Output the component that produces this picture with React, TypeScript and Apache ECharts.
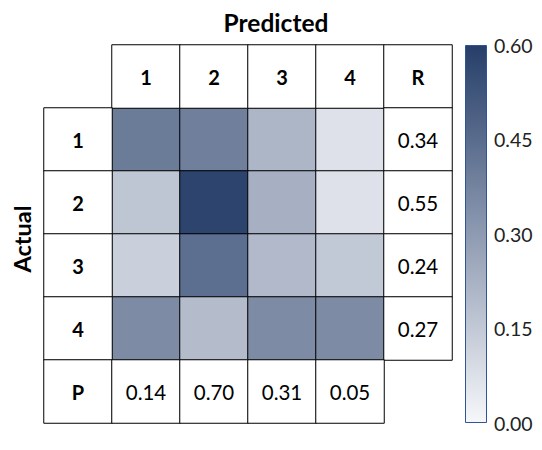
import React, { useEffect, useRef } from "react";
import * as echarts from "echarts";

const xCategories = ["", "1", "2", "3", "4", "R"];
const yCategories = ["", "1", "2", "3", "4", "P"];
const predictedLabels = ["1", "2", "3", "4"];
const actualLabels = ["1", "2", "3", "4"];
const matrix = [
  [0.40, 0.39, 0.21, 0.07],
  [0.16, 0.58, 0.23, 0.07],
  [0.13, 0.44, 0.20, 0.15],
  [0.35, 0.19, 0.35, 0.35],
];
const recall = ["0.34", "0.55", "0.24", "0.27"];
const precision = ["0.14", "0.70", "0.31", "0.05"];
const scaleMin = 0;
const scaleMax = 0.6;
const scaleInterval = 0.15;

const LOW = "#f6f7fa";
const HIGH = "#263e69";
const FONT = "Lato";

export default function App() {
  const ref = useRef<HTMLDivElement>(null);
  useEffect(() => {
    document.body.style.margin = "0";
    if (!ref.current) return;
    const chart = echarts.init(ref.current, undefined, { renderer: "svg" });

    const heat: any[] = [];
    matrix.forEach((row, i) =>
      row.forEach((v, j) => heat.push([j + 1, i + 1, v]))
    );

    const labelCells: any[] = [];
    const boldLabel = { show: true, fontFamily: FONT, fontWeight: "bold", fontSize: 20, color: "#000" };
    const plainLabel = { show: true, fontFamily: FONT, fontWeight: "normal", fontSize: 20.5, color: "#000" };
    predictedLabels.forEach((t, j) =>
      labelCells.push({ value: [j + 1, 0, 0], label: { ...boldLabel, formatter: t } })
    );
    labelCells.push({ value: [5, 0, 0], label: { ...boldLabel, formatter: "R" } });
    actualLabels.forEach((t, i) =>
      labelCells.push({ value: [0, i + 1, 0], label: { ...boldLabel, formatter: t } })
    );
    labelCells.push({ value: [0, 5, 0], label: { ...boldLabel, formatter: "P" } });
    recall.forEach((t, i) =>
      labelCells.push({ value: [5, i + 1, 0], label: { ...plainLabel, formatter: t } })
    );
    precision.forEach((t, j) =>
      labelCells.push({ value: [j + 1, 5, 0], label: { ...plainLabel, formatter: t } })
    );

    chart.setOption({
      animation: false,
      textStyle: { fontFamily: FONT },
      grid: [
        { left: 44, top: 45, width: 408, height: 378 },
        { left: 465, top: 45, width: 22, height: 378 },
      ],
      xAxis: [
        { type: "category", data: xCategories, gridIndex: 0, show: false },
        { type: "category", data: [""], gridIndex: 1, show: false },
      ],
      yAxis: [
        { type: "category", data: yCategories, gridIndex: 0, show: false, inverse: true },
        {
          type: "value",
          gridIndex: 1,
          min: scaleMin,
          max: scaleMax,
          interval: scaleInterval,
          position: "right",
          axisLine: { show: false },
          axisTick: { show: false },
          splitLine: { show: false },
          axisLabel: {
            fontFamily: FONT,
            fontSize: 19.5,
            color: "#222",
            margin: 7,
            formatter: (v: number) => v.toFixed(2),
          },
        },
      ],
      visualMap: [
        {
          type: "continuous",
          show: false,
          min: scaleMin,
          max: scaleMax,
          seriesIndex: 0,
          inRange: { color: [LOW, HIGH] },
        },
        {
          type: "continuous",
          show: false,
          min: 0,
          max: 1,
          seriesIndex: 1,
          inRange: { color: ["#ffffff", "#ffffff"] },
        },
      ],
      series: [
        {
          type: "heatmap",
          xAxisIndex: 0,
          yAxisIndex: 0,
          data: heat,
          itemStyle: { borderColor: "#000", borderWidth: 1 },
          label: { show: false },
          emphasis: { disabled: true },
        },
        {
          type: "heatmap",
          xAxisIndex: 0,
          yAxisIndex: 0,
          data: labelCells,
          itemStyle: { borderColor: "#000", borderWidth: 1 },
          emphasis: { disabled: true },
        },
        {
          type: "bar",
          xAxisIndex: 1,
          yAxisIndex: 1,
          data: [scaleMax],
          barWidth: "100%",
          itemStyle: {
            color: new echarts.graphic.LinearGradient(0, 0, 0, 1, [
              { offset: 0, color: HIGH },
              { offset: 1, color: LOW },
            ]),
            borderColor: "#2f5597",
            borderWidth: 1,
          },
        },
      ],
      graphic: [
        {
          type: "text",
          x: 276,
          y: 22,
          style: {
            text: "Predicted",
            fontFamily: FONT,
            fontWeight: "bold",
            fontSize: 24.5,
            fill: "#000",
            textAlign: "center",
            textVerticalAlign: "middle",
          },
        },
        {
          type: "text",
          x: 22,
          y: 239,
          rotation: Math.PI / 2,
          style: {
            text: "Actual",
            fontFamily: FONT,
            fontWeight: "bold",
            fontSize: 23.5,
            fill: "#000",
            textAlign: "center",
            textVerticalAlign: "middle",
          },
        },
      ],
    });
    return () => chart.dispose();
  }, []);
  return <div ref={ref} style={{ width: 542, height: 450 }} />;
}
